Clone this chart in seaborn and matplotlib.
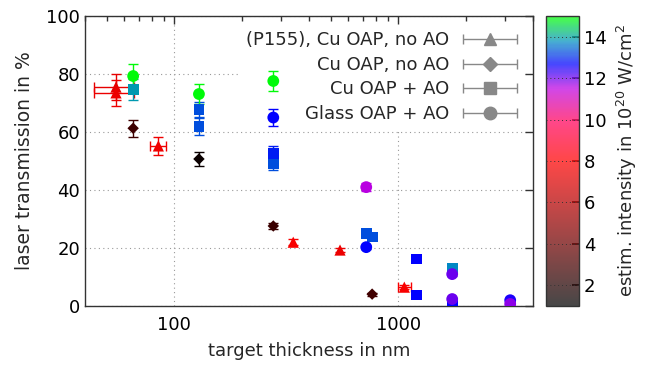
import numpy as np
import matplotlib
matplotlib.use("Agg")
import matplotlib.pyplot as plt
import seaborn as sns
from matplotlib.colors import LinearSegmentedColormap, Normalize
from matplotlib.cm import ScalarMappable
from matplotlib.ticker import LogLocator, NullFormatter
from matplotlib.container import ErrorbarContainer
from matplotlib.legend_handler import HandlerErrorbar

# (P155), Cu OAP, no AO
tri_x = [55, 55, 85, 340, 550, 1065]
tri_y = [75.5, 73.5, 55.2, 22.0, 19.3, 6.5]
tri_xerr = [11, 11, 7, 0, 0, 70]
tri_yerr = [4.5, 4.5, 3, 1, 0.8, 0.8]
tri_int = [7.3, 7.5, 7.6, 7.8, 7.5, 7.8]

# Cu OAP, no AO
dia_x = [65.6, 129, 277, 765]
dia_y = [61.3, 50.7, 27.6, 4.1]
dia_yerr = [3, 2.5, 1, 0.5]
dia_int = [2.7, 1.3, 2.6, 2.8]

# Cu OAP + AO
sq_x = [65.6, 129, 129, 277, 277, 720, 765, 1203, 1203, 1742, 1742]
sq_y = [74.7, 67.8, 62.0, 52.7, 49.0, 25.1, 23.8, 16.2, 3.8, 13.0, 0.8]
sq_yerr = [3.5, 2.5, 3, 2.5, 2, 0.8, 0.8, 0.6, 0.6, 0.6, 0.4]
sq_int = [13.9, 13.3, 13.3, 12.9, 13.3, 13.3, 13.3, 12.7, 12.7, 13.7, 12.7]

# Glass OAP + AO
ci_x = [65.6, 129, 277, 277, 720, 720, 1742, 1742, 3162, 3162]
ci_y = [79.3, 73.1, 77.6, 65.0, 41.0, 20.3, 11.0, 2.4, 2.0, 0.7]
ci_yerr = [4, 3.5, 3.5, 3, 1.5, 0.8, 0.6, 0.5, 0.5, 0.4]
ci_int = [14.9, 14.9, 14.9, 12.7, 11.5, 12.7, 12.0, 12.0, 12.5, 11.8]

labels = ["(P155), Cu OAP, no AO", "Cu OAP, no AO", "Cu OAP + AO", "Glass OAP + AO"]

cmap = LinearSegmentedColormap.from_list(
    "intens",
    [(0.0, "#000000"), (7 / 14, "#ff0000"), (9 / 14, "#ff0060"),
     (10.5 / 14, "#c000e0"), (11.7 / 14, "#0000ff"), (12.8 / 14, "#0090c0"),
     (1.0, "#00ff00")])
norm = Normalize(1, 15)

FS = 13

sns.set_theme(style="white")
plt.rcParams["font.family"] = ["DejaVu Sans"]
plt.rcParams["axes.edgecolor"] = "#333333"
plt.rcParams["axes.linewidth"] = 1.0

fig = plt.figure(figsize=(6.56, 3.65), dpi=100)
ax = fig.add_axes([0.1296, 0.1616, 0.683, 0.7945])
cax = fig.add_axes([0.832, 0.1616, 0.0503, 0.7945])

series = [
    (tri_x, tri_y, tri_xerr, tri_yerr, tri_int, "^", 65),
    (dia_x, dia_y, [0] * len(dia_x), dia_yerr, dia_int, "D", 34),
    (sq_x, sq_y, [0] * len(sq_x), sq_yerr, sq_int, "s", 60),
    (ci_x, ci_y, [0] * len(ci_x), ci_yerr, ci_int, "o", 72),
]

for xs, ys, xe, ye, its, mk, size in series:
    for x, y, dx, dy, v in zip(xs, ys, xe, ye, its):
        c = cmap(norm(v))
        ax.errorbar([x], [y], xerr=[dx] if dx else None, yerr=[dy],
                    fmt="none", ecolor=c, elinewidth=1.0, capsize=3.5,
                    capthick=1.0, zorder=2.5)
    sns.scatterplot(x=xs, y=ys, hue=its, palette=cmap, hue_norm=norm,
                    marker=mk, s=size, edgecolor="none", linewidth=0,
                    legend=False, ax=ax, zorder=3)

# legend proxies
handles = []
for mk in ["^", "D", "s", "o"]:
    h = ax.errorbar([np.nan], [np.nan], xerr=[1], fmt=mk, color="#888888",
                    markersize=9 if mk != "D" else 7.5, elinewidth=1.0,
                    capsize=3.5, capthick=1.0)
    handles.append(h)
leg = ax.legend(handles, labels, loc="upper right", markerfirst=False,
                fontsize=FS, frameon=True, framealpha=1, edgecolor="none",
                fancybox=False, handlelength=3.1, handletextpad=0.7,
                labelspacing=0.36, borderpad=0.35, borderaxespad=0.5,
                handler_map={ErrorbarContainer: HandlerErrorbar(xerr_size=1.5)})
leg.set_zorder(1.5)

ax.set_xscale("log")
ax.set_xlim(40, 4000)
ax.set_ylim(0, 100)
ax.set_yticks([0, 20, 40, 60, 80, 100])
ax.xaxis.set_minor_locator(LogLocator(base=10, subs=np.arange(2, 10)))
ax.xaxis.set_minor_formatter(NullFormatter())
ax.set_xticks([100, 1000])
ax.set_xticklabels(["100", "1000"])
ax.tick_params(which="both", direction="in", top=True, right=True,
               labelsize=FS, colors="#333333", labelcolor="black")
ax.tick_params(which="major", length=6, width=1)
ax.tick_params(which="minor", length=3.5, width=1)
ax.tick_params(axis="x", which="major", pad=7)
ax.grid(True, which="major", ls=(0, (1, 3)), color="#999999", lw=0.8)
ax.set_axisbelow(True)
ax.set_xlabel("target thickness in nm", fontsize=FS, labelpad=6)
ax.set_ylabel("laser transmission in %", fontsize=13.5, labelpad=9)

cb = fig.colorbar(ScalarMappable(norm=norm, cmap=cmap), cax=cax, alpha=0.72)
cb.set_ticks([2, 4, 6, 8, 10, 12, 14])
cb.outline.set_edgecolor("#333333")
cb.outline.set_linewidth(1.0)
for v in [2, 4, 6, 8, 10, 12, 14]:
    cax.axhline(v, ls=(0, (1, 3)), color="#333333", lw=0.7)
cax.tick_params(direction="in", length=5, labelsize=FS, colors="#333333",
                labelcolor="black")
cb.set_label("estim. intensity in 10$^{20}$ W/cm$^2$", fontsize=FS,
             labelpad=6)

fig.savefig("out.png", dpi=100)
